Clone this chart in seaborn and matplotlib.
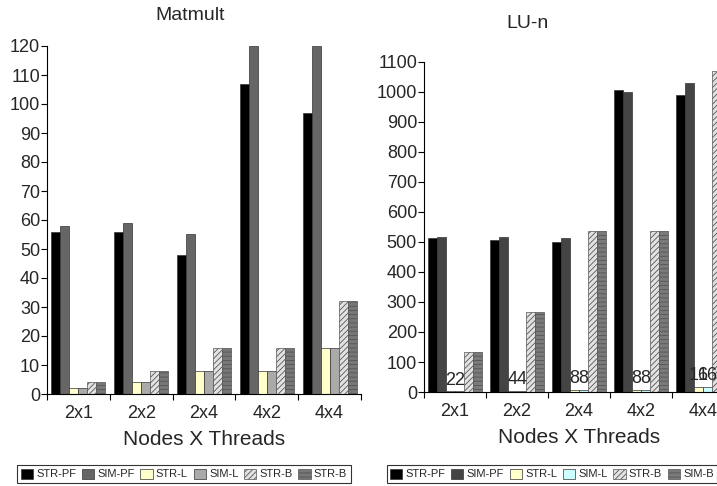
import numpy as np
import pandas as pd
import matplotlib
matplotlib.use("Agg")
import matplotlib.pyplot as plt
import seaborn as sns

# Data
groups = ["2x1", "2x2", "2x4", "4x2", "4x4"]
series = ["STR-PF", "SIM-PF", "STR-L", "SIM-L", "STR-B", "SIM-B"]

matmult_str_pf = [56, 56, 48, 107, 97]
matmult_sim_pf = [58, 59, 55, 120, 120]
matmult_str_l = [2, 4, 8, 8, 16]
matmult_sim_l = [2, 4, 8, 8, 16]
matmult_str_b = [4, 8, 16, 16, 32]
matmult_sim_b = [4, 8, 16, 16, 32]

lu_str_pf = [513, 508, 500, 1008, 990]
lu_sim_pf = [515, 515, 512, 1000, 1030]
lu_str_l = [2, 4, 8, 8, 16]
lu_sim_l = [2, 4, 8, 8, 16]
lu_str_b = [133, 266, 535, 535, 1070]
lu_sim_b = [133, 266, 535, 535, 1070]

matmult_legend = ["STR-PF", "SIM-PF", "STR-L", "SIM-L", "STR-B", "STR-B"]
lu_legend = ["STR-PF", "SIM-PF", "STR-L", "SIM-L", "STR-B", "SIM-B"]


def long_df(cols):
    rows = []
    for name, vals in zip(series, cols):
        for g, v in zip(groups, vals):
            rows.append({"config": g, "series": name, "value": v})
    return pd.DataFrame(rows)


df_mat = long_df([matmult_str_pf, matmult_sim_pf, matmult_str_l,
                  matmult_sim_l, matmult_str_b, matmult_sim_b])
df_lu = long_df([lu_str_pf, lu_sim_pf, lu_str_l,
                 lu_sim_l, lu_str_b, lu_sim_b])

sns.set_style("white")
plt.rcParams["font.family"] = ["Liberation Sans", "DejaVu Sans"]
plt.rcParams["hatch.linewidth"] = 0.6

fig = plt.figure(figsize=(7.17, 4.86), dpi=100)
ax1 = fig.add_axes([47 / 717, 92 / 486, 314 / 717, 348 / 486])
ax2 = fig.add_axes([424 / 717, 94 / 486, 310 / 717, 330 / 486])

pal_mat = ["#000000", "#666666", "#ffffcc", "#aaaaaa", "#e2e2e2", "#777777"]
pal_lu = ["#000000", "#444444", "#ffffcc", "#ccffff", "#e2e2e2", "#7a7a7a"]
hatches = [None, None, None, None, "//////", "----"]


def draw(ax, df, pal, ymax, step):
    sns.barplot(data=df, x="config", y="value", hue="series",
                hue_order=series, order=groups, palette=pal,
                width=0.86, saturation=1, legend=False, ax=ax,
                edgecolor="#333333", linewidth=0.5)
    for cont, h in zip(ax.containers, hatches):
        for p in cont.patches:
            if h:
                p.set_hatch(h)
                p.set_edgecolor("#555555")
    ax.set_ylim(0, ymax)
    ax.set_xlim(-0.5, 4.5)
    ax.set_yticks(np.arange(0, ymax + 1, step))
    ax.set_xticks(np.arange(-0.5, 4.6, 1), minor=True)
    ax.tick_params(axis="x", which="major", length=0, labelsize=13, pad=8)
    ax.tick_params(axis="x", which="minor", length=4, width=0.8,
                   direction="out", color="black", bottom=True)
    ax.tick_params(axis="y", length=4, width=0.8, direction="out",
                   color="black", left=True, labelsize=13, pad=1)
    sns.despine(ax=ax)
    for s in ["left", "bottom"]:
        ax.spines[s].set_color("black")
        ax.spines[s].set_linewidth(0.8)
    ax.set_xlabel("Nodes X Threads", fontsize=15, labelpad=6)
    ax.set_ylabel("")


draw(ax1, df_mat, pal_mat, 120, 10)
draw(ax2, df_lu, pal_lu, 1100, 100)

# value labels on the tiny L bars of LU-n
for cont in ax2.containers[2:4]:
    ax2.bar_label(cont, fontsize=13, padding=2)

fig.text(190 / 717, 1 - 15 / 486, "Matmult", ha="center", va="center", fontsize=14)
fig.text(527 / 717, 1 - 24 / 486, "LU-n", ha="center", va="center", fontsize=14)

leg_kw = dict(ncol=6, fontsize=8, frameon=True, fancybox=False,
              edgecolor="black", handlelength=1.1, handleheight=1.0,
              handletextpad=0.3, columnspacing=0.5, borderpad=0.3,
              borderaxespad=0, loc="center")
l1 = fig.legend(ax1.containers, matmult_legend,
                bbox_to_anchor=(184 / 717, 1 - 474 / 486), **leg_kw)
l2 = fig.legend(ax2.containers, lu_legend,
                bbox_to_anchor=(552 / 717, 1 - 474 / 486), **leg_kw)
for l in (l1, l2):
    l.get_frame().set_linewidth(0.8)

fig.savefig("out.png", dpi=100)
